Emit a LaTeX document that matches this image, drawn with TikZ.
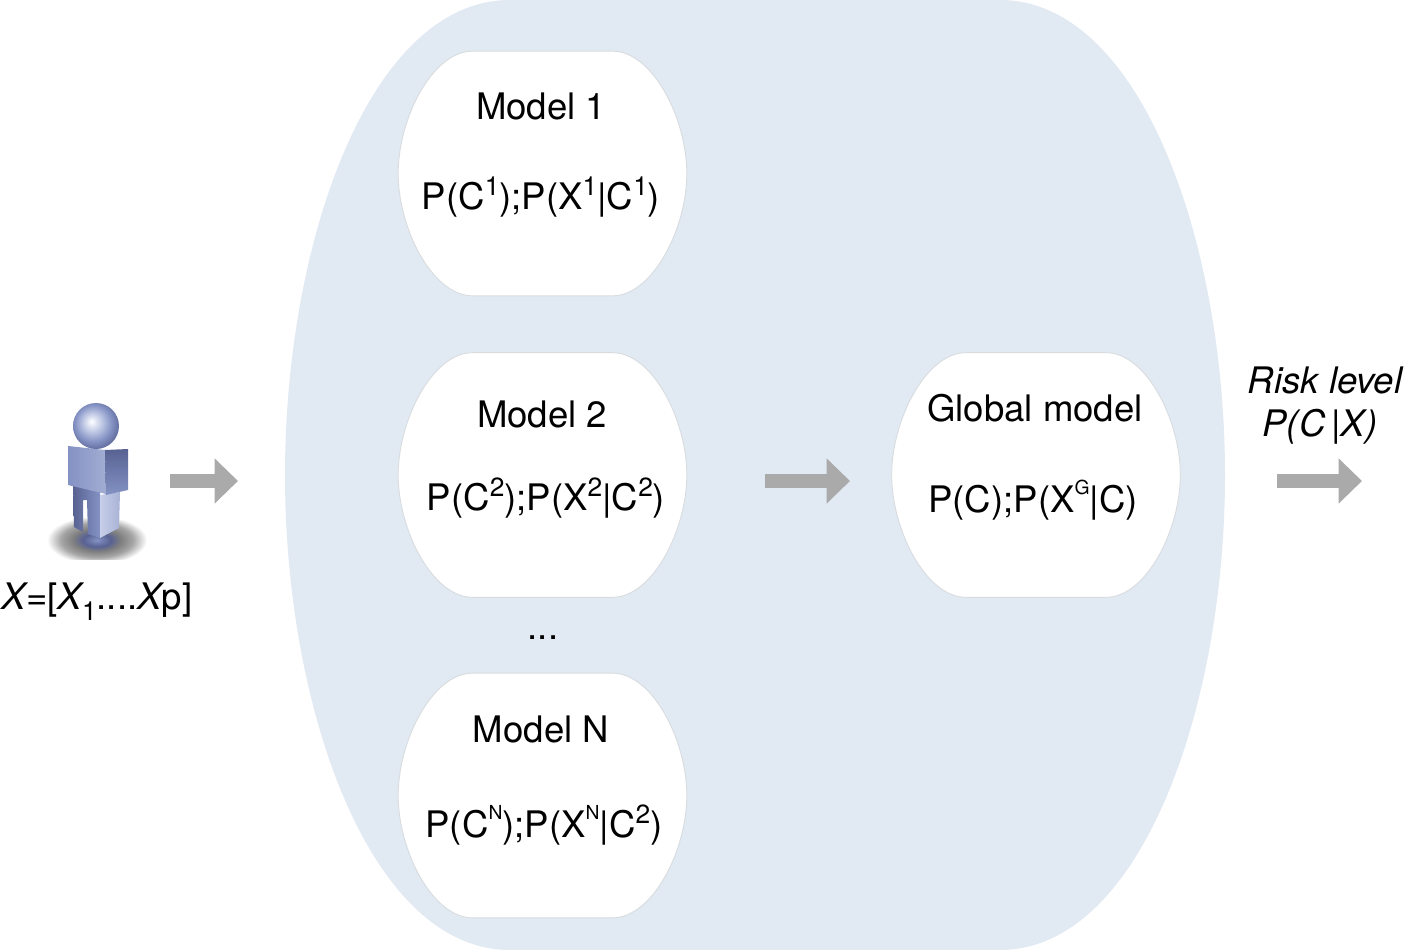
\documentclass[tikz,border=0pt]{standalone}
\usepackage{fontspec}
\setmainfont{TeX Gyre Heros}
\usepackage{xcolor}
\usetikzlibrary{arrows.meta,positioning,calc}
\definecolor{cloudblue}{RGB}{225,233,243}
\definecolor{bubbleline}{RGB}{216,220,222}
\definecolor{flowgray}{RGB}{170,170,170}
\definecolor{manblue}{RGB}{132,146,196}
\definecolor{mandark}{RGB}{88,98,146}
\definecolor{manlight}{RGB}{198,206,232}
\pgfdeclareradialshading{manhead}{\pgfpoint{-5bp}{5bp}}{color(0bp)=(white); color(9bp)=(manlight); color(20bp)=(manblue); color(30bp)=(mandark); color(50bp)=(mandark)}
\pgfdeclareradialshading{manshadow}{\pgfpoint{0bp}{0bp}}{color(0bp)=(manblue); color(7bp)=(mandark); color(12bp)=(black!50); color(18bp)=(black!35); color(25bp)=(white); color(50bp)=(white)}
\newcommand{\smallsup}[1]{\raisebox{0.5em}{\fontsize{11}{11}\selectfont #1}}
\newcommand{\bigsup}[1]{\raisebox{0.4em}{\fontsize{15}{15}\selectfont #1}}
\newcommand{\bigsub}[1]{\raisebox{-0.3em}{\fontsize{15}{15}\selectfont #1}}
\tikzset{
  txt/.style={inner sep=0pt, font=\fontsize{20.8}{25}\selectfont, text=black},
  flowarrow/.style={line width=0.28cm, flowgray, -{Triangle[length=0.47cm,width=0.88cm]}},
  bubble/.style={inner sep=0pt, minimum width=5.76cm, minimum height=4.88cm}
}
\begin{document}
\begin{tikzpicture}[x=0.02cm, y=-0.02cm]
  \useasboundingbox (0,0) rectangle (1404,950);
  % big background
  \fill[cloudblue] (510,0) -- (1000,0) .. controls (1140,0) and (1225,241) .. (1225,475)
    .. controls (1225,709) and (1140,950) .. (1000,950) -- (510,950)
    .. controls (370,950) and (285,709) .. (285,475) .. controls (285,241) and (370,0) .. (510,0) -- cycle;
  % white bubbles
  \foreach \name/\xc/\yc in {modelone/542.5/173.5,modeltwo/542.5/475,modeln/542.5/795.5,globalm/1036/475} {
    \node[bubble] (\name) at (\xc,\yc) {};
    \draw[fill=white, draw=bubbleline, line width=0.5pt] ($(\name.north)+(-70,0)$) -- ($(\name.north)+(70,0)$)
      .. controls ($(\name.north)+(110,0)$) and ($(\name.east)+(0,-55)$) .. (\name.east)
      .. controls ($(\name.east)+(0,55)$) and ($(\name.south)+(110,0)$) .. ($(\name.south)+(70,0)$)
      -- ($(\name.south)+(-70,0)$)
      .. controls ($(\name.south)+(-110,0)$) and ($(\name.west)+(0,55)$) .. (\name.west)
      .. controls ($(\name.west)+(0,-55)$) and ($(\name.north)+(-110,0)$) .. ($(\name.north)+(-70,0)$) -- cycle;
  }
  \node[txt] (title1) at (541,106) {Model 1};
  \node[txt] (prob1) at (541,197) {P(C\bigsup{1});P(X\bigsup{1}|C\bigsup{1})};
  \node[txt] (title2) at (542,414) {Model 2};
  \node[txt] (prob2) at (546,498) {P(C\bigsup{2});P(X\bigsup{2}|C\bigsup{2})};
  \node[txt] (dots) at (543,638) {...};
  \node[txt] (titlen) at (541,729) {Model N};
  \node[txt] (probn) at (544,825) {P(C\smallsup{N});P(X\smallsup{N}|C\bigsup{2})};
  \node[txt] (titleg) at (1035,408) {Global model};
  \node[txt] (probg) at (1033,500) {P(C);P(X\smallsup{G}|C)};
  \node[txt] (risk) at (1325,380) {\itshape Risk level};
  \node[txt] (riskp) at (1320,427) {\itshape P(C\,|X)};
  \node[txt] (input) at (97,602) {\itshape X\upshape=[\itshape X\upshape\bigsub{1}....\itshape X\upshape p]};
  % person
  \begin{scope}
    \clip (40,515) rectangle (155,559);
    \shade[shading=manshadow] (97,540) ellipse (50 and 24);
  \end{scope}
  \shade[left color=mandark, right color=manblue] (73,485) -- (100,490) -- (100,538) -- (88,534) -- (87,500) -- (83,500) -- (83,532) -- (74,527) -- cycle;
  \shade[left color=manlight, right color=manblue!70] (100,495) -- (120,492) -- (119,528) -- (100,538) -- cycle;
  \shade[left color=manblue, right color=manblue!75!white] (68,446) -- (105,450) -- (106,494) -- (68,485) -- cycle;
  \shade[top color=mandark, bottom color=manblue] (105,450) -- (128,449) -- (128,490) -- (106,495) -- cycle;
  \shade[shading=manhead] (96,426) circle (23);
  % arrows
  \coordinate (in1) at (170,481);
  \coordinate (in2) at (238,481);
  \coordinate (mid1) at (765,481);
  \coordinate (mid2) at (850,481);
  \coordinate (out1) at (1277,481);
  \coordinate (out2) at (1362,481);
  \draw[flowarrow] (in1) -- (in2);
  \draw[flowarrow] (mid1) -- (mid2);
  \draw[flowarrow] (out1) -- (out2);
\end{tikzpicture}
\end{document}
